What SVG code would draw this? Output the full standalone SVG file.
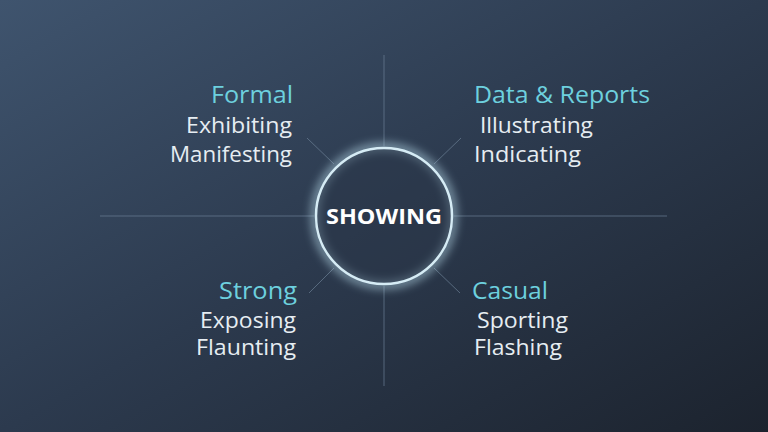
<svg xmlns="http://www.w3.org/2000/svg" width="768" height="432" viewBox="0 0 768 432">
  <defs>
    <linearGradient id="bg" x1="0" y1="0" x2="1" y2="1">
      <stop offset="0" stop-color="#3f546e"/>
      <stop offset="0.5" stop-color="#2c3a4e"/>
      <stop offset="1" stop-color="#1c232e"/>
    </linearGradient>
    <filter id="glow" x="-50%" y="-50%" width="200%" height="200%">
      <feGaussianBlur stdDeviation="5"/>
    </filter>
    <style>
      .axis { stroke: #6b7f94; stroke-width: 1; opacity: 0.7; fill: none; }
      .head { font-family: "Open Sans", "Noto Sans", sans-serif; font-size: 23px; fill: #6dd0de; }
      .word { font-family: "Open Sans", "Noto Sans", sans-serif; font-size: 21px; fill: #e6edf2; }
      .center { font-family: "Open Sans", "Noto Sans", sans-serif; font-size: 21px; font-weight: 700; fill: #ffffff; }
    </style>
  </defs>
  <rect width="768" height="432" fill="url(#bg)"/>
  <g id="connectors">
    <line class="axis" x1="384" y1="55" x2="384" y2="146"/>
    <line class="axis" x1="384" y1="286" x2="384" y2="386"/>
    <line class="axis" x1="100" y1="216" x2="314" y2="216"/>
    <line class="axis" x1="454" y1="216" x2="667" y2="216"/>
    <line class="axis" x1="307" y1="138" x2="334" y2="164"/>
    <line class="axis" x1="461" y1="138" x2="434" y2="164"/>
    <line class="axis" x1="309" y1="293" x2="334" y2="268"/>
    <line class="axis" x1="460" y1="293" x2="434" y2="268"/>
  </g>
  <g id="center">
    <circle cx="384" cy="216" r="69" fill="none" stroke="#bfe3f2" stroke-width="7" opacity="0.65" filter="url(#glow)"/>
    <circle cx="384" cy="216" r="68" fill="#2a3647" fill-opacity="0.5" stroke="#d6ecf5" stroke-width="2.5"/>
    <text class="center" x="384" y="224" text-anchor="middle" textLength="116" lengthAdjust="spacingAndGlyphs">SHOWING</text>
  </g>
  <g id="formal">
    <text class="head" x="293" y="103" text-anchor="end" textLength="82" lengthAdjust="spacingAndGlyphs">Formal</text>
    <text class="word" x="292" y="133" text-anchor="end" textLength="106" lengthAdjust="spacingAndGlyphs">Exhibiting</text>
    <text class="word" x="292" y="162" text-anchor="end" textLength="122" lengthAdjust="spacingAndGlyphs">Manifesting</text>
  </g>
  <g id="data-reports">
    <text class="head" x="474" y="103" textLength="176" lengthAdjust="spacingAndGlyphs">Data &amp; Reports</text>
    <text class="word" x="480" y="133" textLength="113" lengthAdjust="spacingAndGlyphs">Illustrating</text>
    <text class="word" x="474" y="162" textLength="107" lengthAdjust="spacingAndGlyphs">Indicating</text>
  </g>
  <g id="strong">
    <text class="head" x="297" y="299" text-anchor="end" textLength="78" lengthAdjust="spacingAndGlyphs">Strong</text>
    <text class="word" x="296" y="328" text-anchor="end" textLength="96" lengthAdjust="spacingAndGlyphs">Exposing</text>
    <text class="word" x="296" y="355" text-anchor="end" textLength="100" lengthAdjust="spacingAndGlyphs">Flaunting</text>
  </g>
  <g id="casual">
    <text class="head" x="472" y="299" textLength="76" lengthAdjust="spacingAndGlyphs">Casual</text>
    <text class="word" x="477" y="328" textLength="91" lengthAdjust="spacingAndGlyphs">Sporting</text>
    <text class="word" x="474" y="355" textLength="88" lengthAdjust="spacingAndGlyphs">Flashing</text>
  </g>
</svg>
